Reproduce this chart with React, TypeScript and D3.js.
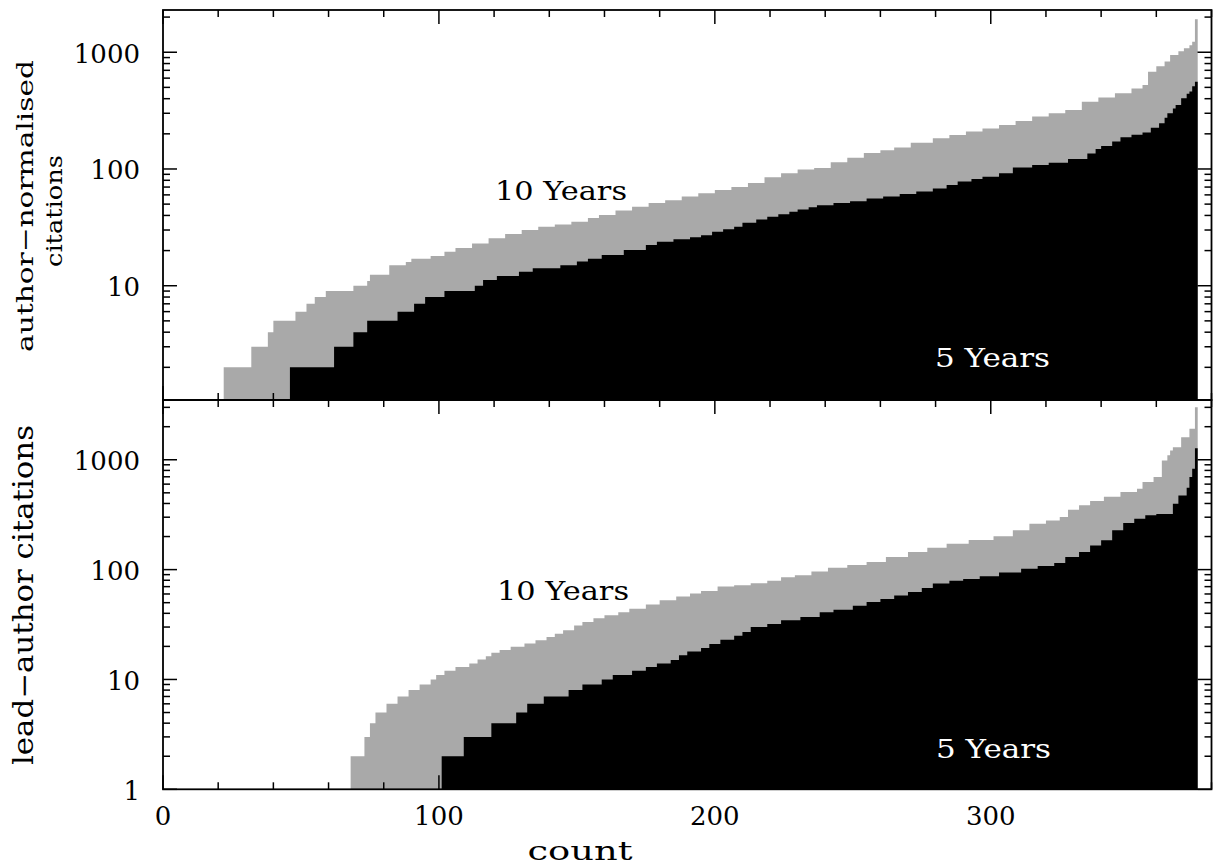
import React from "react";
import * as d3 from "d3";

// ---------- data (sorted step levels: start count -> value) ----------
const N_PAPERS = 375;

// top panel: author-normalised citations
const topTenStart = [22, 32, 38, 40, 48, 52, 55, 59, 69, 74, 75, 82, 88, 90, 97, 102, 106, 112, 118, 124, 130, 136, 142, 148, 154, 158, 164, 170, 176, 182, 188, 194, 200, 206, 212, 218, 224, 230, 236, 242, 248, 254, 260, 265, 271, 279, 285, 291, 297, 303, 309, 315, 321, 327, 333, 339, 345, 351, 355, 357, 360, 363, 365, 368, 370, 372, 373, 374];
const topTenVal = [2, 3, 4, 5, 6, 7, 8, 9, 10, 11, 12.4, 15, 16, 17, 18, 19.5, 21, 23, 25.5, 27.7, 30, 32, 33.5, 35.3, 38, 40.4, 44, 47.5, 51, 54, 58, 62, 66, 70, 76, 85, 92, 99, 102, 114, 125, 137, 145, 153, 168, 183, 195, 209, 222, 238, 258, 281, 300, 320, 377, 410, 446, 490, 525, 682, 760, 832, 948, 1020, 1082, 1150, 1232, 1920];

const topFiveStart = [46, 62, 69, 74, 85, 91, 95, 102, 113, 116, 121, 129, 134, 144, 150, 154, 159, 167, 175, 179, 185, 191, 195, 199, 203, 207, 210, 215, 219, 223, 227, 230, 234, 237, 243, 249, 255, 261, 267, 273, 279, 284, 288, 293, 297, 303, 308, 315, 321, 328, 335, 338, 340, 344, 347, 351, 355, 358, 361, 363, 364, 366, 367, 369, 371, 372, 373, 374];
const topFiveVal = [2, 3, 4, 5, 6, 7, 8, 9, 10, 11.2, 12.1, 13.2, 14.1, 15, 16.1, 17, 18.3, 20.2, 22.3, 23.8, 25, 26, 27, 29, 30.5, 32, 34.7, 37, 39, 41, 43, 45, 47, 49, 51, 53, 56, 58, 61, 64, 68, 73, 78, 82, 86, 92, 103, 108, 113, 122, 136, 148, 157, 172, 187, 196, 205, 225, 246, 275, 300, 330, 353, 403, 440, 460, 510, 560];

// bottom panel: lead-author citations
const botTenStart = [68, 73, 75, 77, 81, 85, 89, 93, 97, 99, 102, 106, 111, 114, 117, 119, 122, 126, 131, 135, 139, 142, 145, 149, 152, 156, 160, 165, 169, 175, 180, 186, 191, 195, 201, 207, 213, 219, 224, 229, 235, 241, 248, 255, 262, 270, 277, 284, 292, 301, 308, 314, 320, 325, 328, 332, 336, 341, 347, 353, 355, 359, 362, 364, 365, 366, 369, 372, 374];
const botTenVal = [2, 3, 4, 5, 6, 7, 8, 9, 10, 11, 12, 13, 14, 15.2, 16.3, 17.5, 18.5, 19.8, 21.2, 22.8, 24.4, 26, 28, 31, 33.4, 36, 38.4, 41, 44, 48, 52.6, 57, 60.5, 64, 70, 72, 75, 79, 85, 89, 96, 104, 110, 117, 130, 145, 158, 172, 186, 201, 228, 262, 280, 301, 351, 385, 421, 460, 508, 545, 626, 695, 985, 1100, 1216, 1303, 1604, 1914, 3006];

const botFiveStart = [101, 109, 119, 128, 132, 138, 147, 152, 159, 163, 170, 175, 179, 184, 187, 190, 195, 198, 202, 207, 210, 213, 219, 224, 231, 238, 243, 250, 255, 260, 265, 270, 275, 279, 285, 290, 296, 303, 311, 317, 323, 327, 332, 336, 340, 344, 348, 352, 356, 360, 366, 368, 371, 372, 373, 374];
const botFiveVal = [2, 3, 4, 5, 6, 7, 8, 9, 10, 11, 12, 13, 14, 15, 16.6, 18, 19.3, 21, 23, 25, 27, 30, 32, 34.6, 37, 41, 43, 47, 50.7, 54, 58, 62.6, 68, 74.6, 79, 82, 87, 94, 102, 108, 115, 130, 145, 166, 185, 228, 265, 290, 312, 320, 398, 473, 556, 695, 828, 1275];

const xTickMajor = [0, 100, 200, 300];
const topYLabels = [10, 100, 1000];
const botYLabels = [1, 10, 100, 1000];

// ---------- layout ----------
const W = 1218;
const H = 865;
const L = 163;
const R = 1211.5;
const TOP0 = 10;
const MID = 400;
const BOT = 789.3;
const GRAY = "#a9a9a9";
const FONT = "'DejaVu Serif', serif";

const x = d3.scaleLinear().domain([0, 380]).range([L, R]);
const yTop = d3.scaleLog().domain([1.05, 2300]).range([MID, TOP0]);
const yBot = d3.scaleLog().domain([1, 3500]).range([BOT, MID]);

function steps(starts: number[], vals: number[]) {
  const pts = starts.map((s, i) => ({ c: s, v: vals[i] }));
  pts.push({ c: N_PAPERS, v: vals[vals.length - 1] });
  return pts;
}

function areaPath(starts: number[], vals: number[], y: d3.ScaleLogarithmic<number, number>, base: number) {
  const gen = d3
    .area<{ c: number; v: number }>()
    .x((d) => x(d.c))
    .y0(base)
    .y1((d) => y(d.v))
    .curve(d3.curveStepAfter);
  return gen(steps(starts, vals)) || "";
}

function logTicks(y: d3.ScaleLogarithmic<number, number>) {
  const [lo, hi] = y.domain();
  const out: { v: number; major: boolean }[] = [];
  for (let k = -1; k <= 4; k++) {
    for (let m = 1; m <= 9; m++) {
      const v = m * Math.pow(10, k);
      if (v >= lo * 0.999 && v <= hi * 1.001) out.push({ v, major: m === 1 });
    }
  }
  return out;
}

const xTicks = d3.range(0, 381, 20).map((v) => ({ v, major: v % 100 === 0 }));

function Panel({ y, top, bottom, ten, five }: any) {
  const yt = logTicks(y);
  return (
    <g>
      <path d={areaPath(ten[0], ten[1], y, bottom)} fill={GRAY} />
      <path d={areaPath(five[0], five[1], y, bottom)} fill="#000" />
      {yt.map((t, i) => {
        const yy = y(t.v);
        const len = t.major ? 14 : 7;
        return (
          <g key={i} stroke="#000" strokeWidth={1.5}>
            <line x1={L} x2={L + len} y1={yy} y2={yy} />
            <line x1={R} x2={R - len} y1={yy} y2={yy} />
          </g>
        );
      })}
      {xTicks.map((t, i) => {
        const xx = x(t.v);
        const len = t.major ? 14 : 7;
        return (
          <g key={i} stroke="#000" strokeWidth={1.5}>
            <line x1={xx} x2={xx} y1={top} y2={top + len} />
            <line x1={xx} x2={xx} y1={bottom} y2={bottom - len} />
          </g>
        );
      })}
      <rect x={L} y={top} width={R - L} height={bottom - top} fill="none" stroke="#000" strokeWidth={1.8} />
    </g>
  );
}

export default function App() {
  const stretch = "spacingAndGlyphs";
  return (
    <svg
      width={W}
      height={H}
      viewBox={`0 0 ${W} ${H}`}
      style={{ position: "absolute", left: 0, top: 0, background: "#fff" }}
      fontFamily={FONT}
    >
      <rect x={0} y={0} width={W} height={H} fill="#fff" />
      <Panel y={yTop} top={TOP0} bottom={MID} ten={[topTenStart, topTenVal]} five={[topFiveStart, topFiveVal]} />
      <Panel y={yBot} top={MID} bottom={BOT} ten={[botTenStart, botTenVal]} five={[botFiveStart, botFiveVal]} />

      {topYLabels.map((v) => (
        <text key={"t" + v} x={140} y={yTop(v) + 10.5} fontSize={26} textAnchor="end">
          {v}
        </text>
      ))}
      {botYLabels.map((v) => (
        <text key={"b" + v} x={140} y={yBot(v) + 10.5} fontSize={26} textAnchor="end">
          {v}
        </text>
      ))}
      {xTickMajor.map((v) => (
        <text key={"x" + v} x={x(v)} y={825} fontSize={26} textAnchor="middle">
          {v}
        </text>
      ))}
      <text x={580} y={860} fontSize={26} textAnchor="middle" textLength={105} lengthAdjust={stretch}>
        count
      </text>

      <text transform="translate(33.3,206) rotate(-90)" fontSize={23} textAnchor="middle" textLength={292} lengthAdjust={stretch}>
        author−normalised
      </text>
      <text transform="translate(61.7,211) rotate(-90)" fontSize={23} textAnchor="middle" textLength={112} lengthAdjust={stretch}>
        citations
      </text>
      <text transform="translate(33.3,595) rotate(-90)" fontSize={27} textAnchor="middle" textLength={340} lengthAdjust={stretch}>
        lead−author citations
      </text>

      <text x={495} y={200} fontSize={26} textLength={132} lengthAdjust={stretch} fill="#000">
        10 Years
      </text>
      <text x={935} y={367} fontSize={26} textLength={115} lengthAdjust={stretch} fill="#fff">
        5 Years
      </text>
      <text x={497} y={600} fontSize={26} textLength={132} lengthAdjust={stretch} fill="#000">
        10 Years
      </text>
      <text x={936} y={758} fontSize={26} textLength={115} lengthAdjust={stretch} fill="#fff">
        5 Years
      </text>
    </svg>
  );
}
